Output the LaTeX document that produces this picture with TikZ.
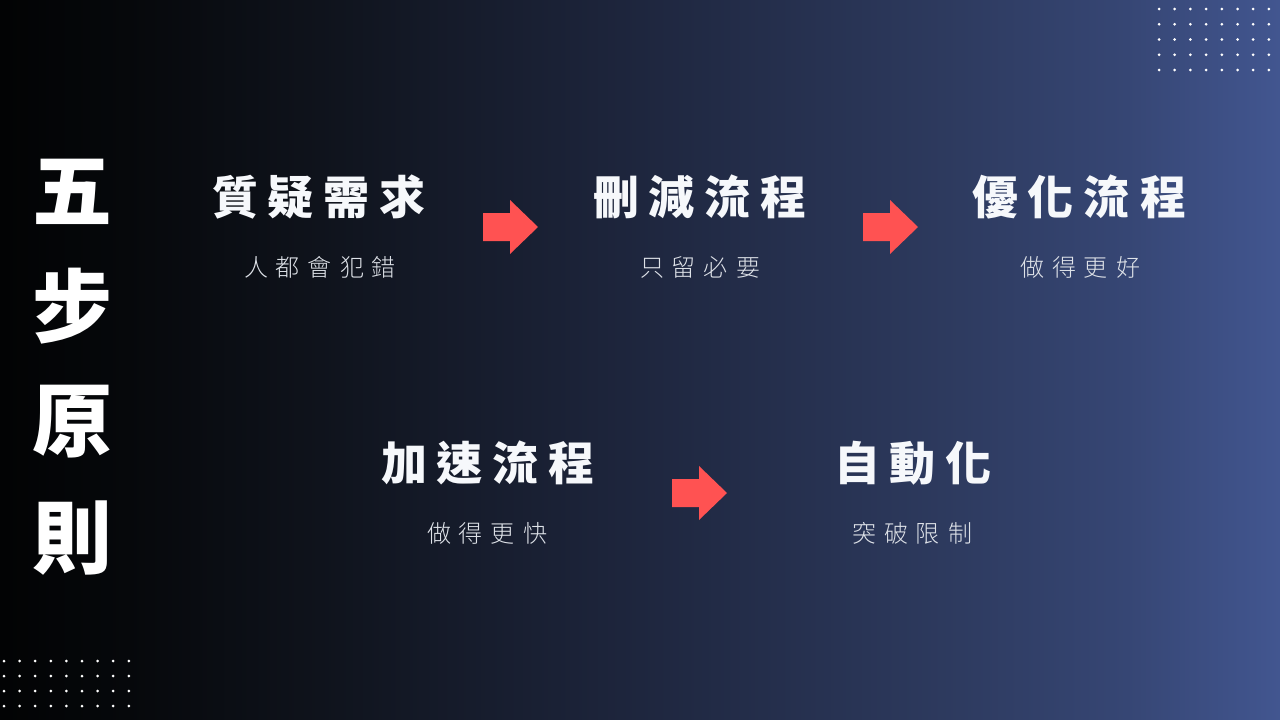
\documentclass[tikz,border=0pt]{standalone}
\usepackage{fontspec}
\newfontfamily\cjk{Noto Sans CJK TC}
\newfontfamily\cjkl{Noto Sans CJK TC Light}
\definecolor{bgA}{RGB}{2,3,4}
\definecolor{bgB}{RGB}{6,8,11}
\definecolor{bgC}{RGB}{15,19,28}
\definecolor{bgD}{RGB}{30,38,62}
\definecolor{bgE}{RGB}{46,59,96}
\definecolor{bgF}{RGB}{54,70,116}
\definecolor{bgG}{RGB}{66,86,144}
\definecolor{arrowred}{RGB}{255,82,82}
\definecolor{headc}{RGB}{246,248,251}
\definecolor{subc}{RGB}{222,226,232}
% path is fitted to the 25bp..75bp band of the shading
\pgfdeclarehorizontalshading{bgshade}{100bp}{color(0bp)=(bgA); color(25bp)=(bgA); color(30bp)=(bgB); color(37.5bp)=(bgC); color(50bp)=(bgD); color(62.5bp)=(bgE); color(69bp)=(bgF); color(75bp)=(bgG); color(100bp)=(bgG)}
\makeatletter
\newcommand\spacedtext[2]{\begingroup\def\st@sep{}\@tfor\st@c:=#2\do{\st@sep\st@c\def\st@sep{\kern#1}}\endgroup}
\makeatother
\tikzset{
  titlech/.style={text=white, font=\cjk\bfseries\fontsize{80}{80}\selectfont, inner sep=0pt},
  headtxt/.style={text=headc, font=\cjk\bfseries\fontsize{46}{46}\selectfont, inner sep=0pt},
  subtxt/.style={text=subc, font=\cjkl\fontsize{24}{24}\selectfont, inner sep=0pt},
  dot/.style={fill=white},
  redarrow/.style={fill=arrowred},
}
\begin{document}
\begin{tikzpicture}[x=1pt,y=-1pt]
\useasboundingbox (0,0) rectangle (1280,720);
\fill[shading=bgshade] (0,0) rectangle (1280,720);
% dot grids
\foreach \i in {0,...,7} \foreach \j in {0,...,4}
  \fill[dot] (1159+15.7*\i, 9+15.25*\j) circle (1.5);
\foreach \i in {0,...,8} \foreach \j in {0,...,3}
  \fill[dot] (4+15.6*\i, 661+15*\j) circle (1.5);
% vertical title
\node[titlech] (t1) at (72,192) {五};
\node[titlech] (t2) at (72,306) {步};
\node[titlech] (t3) at (72,422) {原};
\node[titlech] (t4) at (72,538) {則};
% headings
\node[headtxt] (h1) at (319,197) {\spacedtext{10pt}{質疑需求}};
\node[subtxt]  (s1) at (320,267) {\spacedtext{8pt}{人都會犯錯}};
\node[headtxt] (h2) at (700,197) {\spacedtext{10pt}{刪減流程}};
\node[subtxt]  (s2) at (700,267) {\spacedtext{8pt}{只留必要}};
\node[headtxt] (h3) at (1079,197) {\spacedtext{10pt}{優化流程}};
\node[subtxt]  (s3) at (1080,267) {\spacedtext{8pt}{做得更好}};
\node[headtxt] (h4) at (488,463) {\spacedtext{10pt}{加速流程}};
\node[subtxt]  (s4) at (487,533) {\spacedtext{8pt}{做得更快}};
\node[headtxt] (h5) at (913,463) {\spacedtext{10pt}{自動化}};
\node[subtxt]  (s5) at (912,533) {\spacedtext{8pt}{突破限制}};
% arrows
\coordinate (a1) at (483,227);
\coordinate (a2) at (863,227);
\coordinate (a3) at (672,493);
\foreach \a in {a1,a2,a3}
  \fill[redarrow] ([shift={(0,-14)}]\a) -- ++(27,0) -- ++(0,-13) -- ++(28,27) -- ++(-28,27) -- ++(0,-13) -- ++(-27,0) -- cycle;
\end{tikzpicture}
\end{document}
